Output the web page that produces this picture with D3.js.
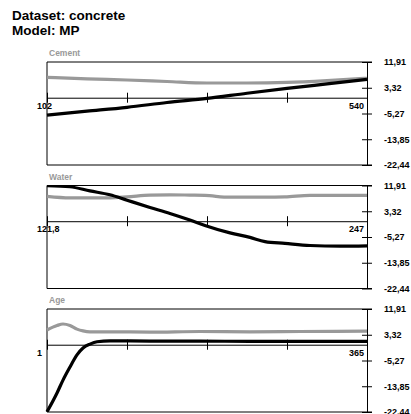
<!DOCTYPE html>
<html>
<head>
<meta charset="utf-8">
<script src="https://cdn.jsdelivr.net/npm/d3@7"></script>
<style>
  body { margin: 0; background: #fff; }
  text { font-family: "Liberation Sans", Arial, sans-serif; }
</style>
</head>
<body>
<svg id="chart"></svg>
<script>
const width = 411, height = 414

// y axis (shared by all panels)
const yTicks = [11.91, 3.32, -5.27, -13.85, -22.44]
const yTickLabels = ["11,91", "3,32", "-5,27", "-13,85", "-22,44"]

// Cement
const cementX = [102, 156.75, 211.5, 266.25, 321, 375.75, 430.5, 485.25, 540]
const cementBlack = [-5.8, -4.5, -3.2, -1.6, -0.2, 1.5, 3.1, 4.6, 6.1]
const cementGray = [6.8, 6.3, 5.9, 5.4, 4.9, 4.9, 5.1, 5.7, 6.5]

// Water
const waterX = [121.8, 130.8, 138.6, 146.4, 153.1, 162.1, 169.9, 177.7, 183.6, 193.4, 201.2, 207.1, 214.9, 224.7, 236.4, 247]
const waterBlack = [11.9, 11.5, 10.1, 8.8, 7.0, 4.6, 2.6, 0.4, -1.4, -3.9, -5.4, -6.8, -7.4, -8.1, -8.3, -8.2]
const waterGray = [8.3, 7.8, 7.8, 7.8, 8.1, 8.7, 8.8, 8.7, 8.6, 8.0, 8.0, 8.0, 8.1, 8.6, 8.6, 8.6]

// Age
const ageX = [1, 12.4, 19.2, 27.2, 35.1, 42.0, 49.9, 57.9, 72.7, 118.2, 175.0, 231.9, 288.8, 365]
const ageBlack = [-22.4, -16.1, -11.8, -7.4, -3.4, -1.1, 0.2, 1.0, 1.3, 1.2, 1.2, 1.1, 1.1, 1.1]
const ageGray = [4.9, 6.4, 6.9, 6.4, 5.2, 4.6, 4.3, 4.3, 4.3, 4.2, 4.4, 4.3, 4.4, 4.5]

const panels = [
  { name: "Cement", x: cementX, black: cementBlack, gray: cementGray, labels: ["102", "540"] },
  { name: "Water", x: waterX, black: waterBlack, gray: waterGray, labels: ["121,8", "247"] },
  { name: "Age", x: ageX, black: ageBlack, gray: ageGray, labels: ["1", "365"] }
]

const left = 47, right = 367, panelH = 103
const tops = [62, 185.5, 309]
const GRAY = "#999999"

const svg = d3.select("#chart").attr("width", width).attr("height", height)

svg.append("text").attr("x", 12).attr("y", 20)
  .style("font-size", "13.5px").style("font-weight", "bold")
  .text("Dataset: concrete")
svg.append("text").attr("x", 12).attr("y", 35)
  .style("font-size", "13.5px").style("font-weight", "bold")
  .text("Model: MP")

panels.forEach((p, i) => {
  const top = tops[i]
  const g = svg.append("g")

  const x = d3.scaleLinear().domain([p.x[0], p.x[p.x.length - 1]]).range([left, right])
  const y = d3.scaleLinear().domain([-22.44, 11.91]).range([top + panelH, top])

  // panel title
  g.append("text").attr("x", left + 2).attr("y", top - 6)
    .style("font-size", "8.5px").style("font-weight", "bold").attr("fill", GRAY)
    .text(p.name)

  // frame: top, left, bottom
  g.append("path")
    .attr("d", `M${right + 5},${top}H${left}V${top + panelH}H${right + 5}`)
    .attr("fill", "none").attr("stroke", "#000").attr("stroke-width", 1)

  // right y axis
  const yAxis = d3.axisRight(y).tickValues(yTicks).tickSize(0).tickFormat((d, k) => yTickLabels[k])
  const ya = g.append("g").attr("transform", `translate(${right},0)`).call(yAxis)
  ya.select(".domain").attr("stroke", "#000")
  ya.selectAll(".tick line").attr("x1", -5).attr("x2", 5).attr("stroke", "#000")
  ya.selectAll(".tick text").attr("x", 17)
    .style("font-size", "9px").style("font-weight", "bold")
    .style("font-family", "'Liberation Sans', Arial, sans-serif").attr("fill", "#000")

  // x axis on the zero line
  const xTicks = d3.range(5).map(k => p.x[0] + k * (p.x[p.x.length - 1] - p.x[0]) / 4)
  const xAxis = d3.axisBottom(x).tickValues(xTicks).tickSize(0).tickFormat("")
  const xa = g.append("g").attr("transform", `translate(0,${y(0)})`).call(xAxis)
  xa.select(".domain").attr("stroke", "#000")
  xa.selectAll(".tick line").attr("y1", -5).attr("y2", 5).attr("stroke", "#000")

  g.append("text").attr("x", left - 10).attr("y", y(0) + 11)
    .style("font-size", "9px").style("font-weight", "bold").text(p.labels[0])
  g.append("text").attr("x", right - 3).attr("y", y(0) + 11).attr("text-anchor", "end")
    .style("font-size", "9px").style("font-weight", "bold").text(p.labels[1])

  const clipId = "clip" + i
  g.append("clipPath").attr("id", clipId)
    .append("rect").attr("x", left - 2).attr("y", top).attr("width", right - left + 4).attr("height", panelH)

  const line = vals => d3.line()
    .x((d, k) => x(p.x[k]))
    .y(d => y(d))
    .curve(d3.curveMonotoneX)(vals)

  g.append("path").attr("d", line(p.gray))
    .attr("clip-path", `url(#${clipId})`)
    .attr("fill", "none").attr("stroke", GRAY).attr("stroke-width", 3.2)
  g.append("path").attr("d", line(p.black))
    .attr("clip-path", `url(#${clipId})`)
    .attr("fill", "none").attr("stroke", "#000").attr("stroke-width", 3.2)
})
</script>
</body>
</html>
